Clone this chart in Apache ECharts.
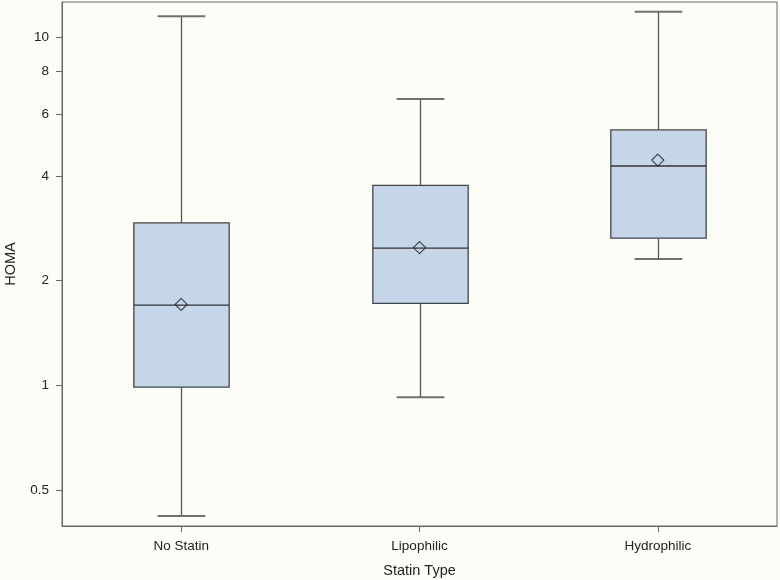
<!DOCTYPE html>
<html>
<head>
<meta charset="utf-8">
<script src="https://cdn.jsdelivr.net/npm/echarts@6/dist/echarts.min.js"></script>
<style>
html,body{margin:0;padding:0;background:#fdfdf8;}
#chart{width:780px;height:580px;}
</style>
</head>
<body>
<div id="chart"></div>
<script>
const categories = ['No Statin', 'Lipophilic', 'Hydrophilic'];
const whiskerLow = [0.422, 0.926, 2.31];
const q1 = [0.989, 1.721, 2.65];
const median = [1.702, 2.481, 4.27];
const q3 = [2.933, 3.756, 5.42];
const whiskerHigh = [11.49, 6.65, 11.84];
const means = [1.71, 2.49, 4.44];
const yTicks = [0.5, 1, 2, 4, 6, 8, 10];

const boxData = categories.map((c, i) => [i, whiskerLow[i], q1[i], median[i], q3[i], whiskerHigh[i]]);
const meanData = categories.map((c, i) => [i, means[i]]);

const chart = echarts.init(document.getElementById('chart'));
const font = 'Liberation Sans, Arial, sans-serif';

chart.setOption({
  backgroundColor: '#fdfdf8',
  animation: false,
  grid: { left: 62, right: 3, top: 2, bottom: 54, show: true, borderColor: '#666', borderWidth: 1,
    backgroundColor: 'transparent', outerBoundsMode: 'none', containLabel: false },
  xAxis: {
    type: 'category',
    data: categories,
    boundaryGap: true,
    name: 'Statin Type',
    nameLocation: 'middle',
    nameGap: 37,
    nameTextStyle: { fontFamily: font, fontSize: 14.5, color: '#222' },
    axisLine: { show: true, lineStyle: { color: '#666' } },
    axisTick: { show: true, alignWithLabel: true, interval: 0, length: 6, lineStyle: { color: '#666' } },
    axisLabel: { fontFamily: font, fontSize: 13.5, color: '#222', margin: 13, interval: 0 },
    splitLine: { show: false }
  },
  yAxis: {
    type: 'log',
    logBase: 10,
    min: 0.395,
    max: 12.63,
    name: 'HOMA',
    nameLocation: 'middle',
    nameGap: 44,
    nameTextStyle: { fontFamily: font, fontSize: 14.5, color: '#222' },
    axisLine: { show: true, lineStyle: { color: '#666' } },
    axisTick: { show: true, length: 6, customValues: yTicks, lineStyle: { color: '#666' } },
    axisLabel: { fontFamily: font, fontSize: 13.5, color: '#222', margin: 13, customValues: yTicks,
      formatter: v => String(v) },
    splitLine: { show: false },
    minorTick: { show: false }
  },
  series: [
    {
      type: 'custom',
      data: boxData,
      encode: { x: 0, y: [1, 2, 3, 4, 5] },
      renderItem: function (params, api) {
        const x = api.value(0);
        const lo = api.coord([x, api.value(1)]);
        const b1 = api.coord([x, api.value(2)]);
        const md = api.coord([x, api.value(3)]);
        const b3 = api.coord([x, api.value(4)]);
        const hi = api.coord([x, api.value(5)]);
        const band = api.size([1, 0], [x, 1])[0];
        const bw = band * 0.4;
        const cw = band * 0.2;
        const cx = Math.round(lo[0]) + 0.5;
        const wl = { stroke: '#555', lineWidth: 1.3 };
        const cap = { stroke: '#707070', lineWidth: 2 };
        return {
          type: 'group',
          children: [
            { type: 'line', shape: { x1: cx, y1: hi[1], x2: cx, y2: b3[1] }, style: wl },
            { type: 'line', shape: { x1: cx, y1: b1[1], x2: cx, y2: lo[1] }, style: wl },
            { type: 'line', shape: { x1: cx - cw / 2, y1: hi[1], x2: cx + cw / 2, y2: hi[1] }, style: cap },
            { type: 'line', shape: { x1: cx - cw / 2, y1: lo[1], x2: cx + cw / 2, y2: lo[1] }, style: cap },
            { type: 'rect', shape: { x: cx - bw / 2, y: b3[1], width: bw, height: b1[1] - b3[1] },
              style: { fill: '#c6d6e9', stroke: '#444', lineWidth: 1.3 } },
            { type: 'line', shape: { x1: cx - bw / 2, y1: md[1], x2: cx + bw / 2, y2: md[1] },
              style: { stroke: '#333', lineWidth: 1.3 } }
          ]
        };
      },
      z: 2
    },
    {
      type: 'scatter',
      data: meanData,
      symbol: 'diamond',
      symbolSize: [12, 12],
      itemStyle: { color: 'rgba(0,0,0,0)', borderColor: '#222', borderWidth: 1.2 },
      z: 3
    }
  ]
});
</script>
</body>
</html>
